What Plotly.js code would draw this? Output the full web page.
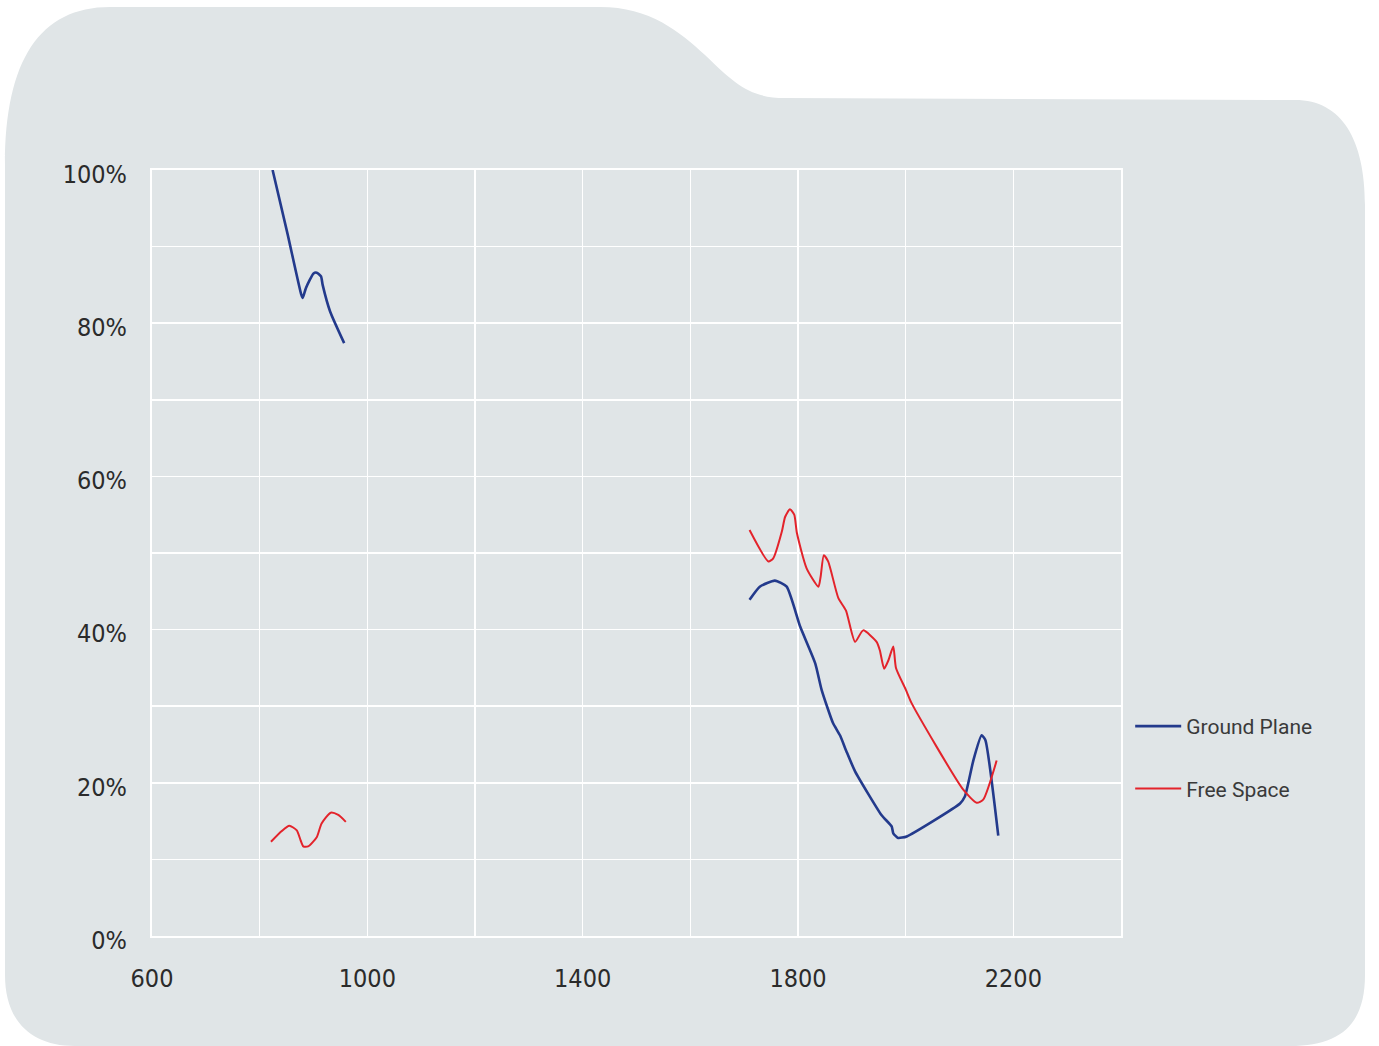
<!DOCTYPE html>
<html><head><meta charset="utf-8">
<script src="https://cdn.plot.ly/plotly-3.0.1.min.js"></script>
<style>html,body{margin:0;padding:0;background:#fff;}#chart{width:1379px;height:1046px;}</style>
</head><body><div id="chart"></div>
<script>
// Frequency (MHz) and efficiency (fraction); null separates the two bands
const groundX = [824, 852, 877, 880, 886, 900, 906, 914, 917, 931, 957,
  null,
  1710, 1729, 1757, 1779, 1804, 1832, 1844, 1865, 1878, 1890, 1906, 1955, 1974, 1977, 1986, 2002, 2101, 2110, 2126, 2141, 2148, 2172];
const groundY = [1.000, 0.916, 0.838, 0.833, 0.846, 0.865, 0.866, 0.861, 0.850, 0.815, 0.774,
  null,
  0.439, 0.456, 0.464, 0.456, 0.404, 0.356, 0.321, 0.278, 0.262, 0.241, 0.215, 0.158, 0.143, 0.134, 0.128, 0.130, 0.173, 0.182, 0.230, 0.262, 0.256, 0.131];

const freeX = [821, 841, 855, 869, 876, 881, 890, 906, 915, 932, 946, 960,
  null,
  1710, 1745, 1754, 1770, 1776, 1785, 1793, 1798, 1816, 1838, 1842, 1848, 1856, 1875, 1889, 1906, 1921, 1946, 1952, 1960, 1968, 1977, 1982, 2000, 2011, 2107, 2132, 2144, 2169];
const freeY = [0.123, 0.137, 0.144, 0.138, 0.125, 0.117, 0.117, 0.129, 0.147, 0.161, 0.158, 0.149,
  null,
  0.530, 0.489, 0.493, 0.528, 0.547, 0.557, 0.550, 0.526, 0.480, 0.456, 0.469, 0.497, 0.489, 0.441, 0.425, 0.384, 0.399, 0.384, 0.373, 0.349, 0.360, 0.378, 0.350, 0.322, 0.304, 0.191, 0.174, 0.178, 0.229];

const seriesNames = ['Ground Plane', 'Free Space'];
const xTickVals = [600, 800, 1000, 1200, 1400, 1600, 1800, 2000, 2200, 2400];
const xTickText = ['600', '', '1000', '', '1400', '', '1800', '', '2200', ''];
const yTickVals = [0, 0.1, 0.2, 0.3, 0.4, 0.5, 0.6, 0.7, 0.8, 0.9, 1.0];
const yTickText = ['0%', '', '20%', '', '40%', '', '60%', '', '80%', '', '100%'];

// layout geometry (pixels)
const W = 1379, H = 1046, L = 152, R = 1121, T = 170, B = 936;
function P(px, py) { return ((px - L) / (R - L)).toFixed(5) + ',' + ((B - py) / (B - T)).toFixed(5); }
const folder = 'M' + P(5,165) +
  ' C' + P(5,60) + ' ' + P(40,7) + ' ' + P(110,7) +
  ' L' + P(600,7) +
  ' C' + P(650,7) + ' ' + P(680,32) + ' ' + P(705,55) +
  ' C' + P(735,84) + ' ' + P(750,98) + ' ' + P(785,98) +
  ' L' + P(1295,100) +
  ' C' + P(1342,100) + ' ' + P(1365,140) + ' ' + P(1365,205) +
  ' L' + P(1365,975) +
  ' C' + P(1365,1025) + ' ' + P(1340,1046) + ' ' + P(1290,1046) +
  ' L' + P(75,1046) +
  ' C' + P(30,1046) + ' ' + P(5,1020) + ' ' + P(5,975) + ' Z';

const traces = [
  {x: groundX, y: groundY, name: seriesNames[0], type: 'scatter', mode: 'lines', connectgaps: false,
   line: {color: '#233a8c', width: 2.6, shape: 'spline', smoothing: 0.5}, legendgroup: 'a'},
  {x: freeX, y: freeY, name: seriesNames[1], type: 'scatter', mode: 'lines', connectgaps: false,
   line: {color: '#e3232b', width: 2, shape: 'spline', smoothing: 0.6}, legendgroup: 'b'}
];

const tickFont = {family: '"Liberation Sans Narrow", "DejaVu Sans Condensed", sans-serif', size: 25, color: '#2b2b2b'};
const layout = {
  width: W, height: H,
  margin: {l: L, r: W - R, t: T, b: H - B, pad: 0},
  paper_bgcolor: '#ffffff', plot_bgcolor: 'rgba(0,0,0,0)',
  showlegend: true,
  legend: {x: (1136 - L) / (R - L) - 0.006, xanchor: 'left', y: (B - 706) / (B - T), yanchor: 'top',
    bgcolor: 'rgba(0,0,0,0)', font: {family: 'Roboto, sans-serif', size: 21, color: '#3a3a3a'},
    tracegroupgap: 32, traceorder: 'grouped', itemwidth: 46},
  xaxis: {range: [600, 2400], tickmode: 'array', tickvals: xTickVals, ticktext: xTickText,
    showgrid: true, gridcolor: '#ffffff', gridwidth: 1.5, zeroline: false,
    showline: true, linecolor: '#ffffff', linewidth: 2, mirror: true,
    ticks: '', ticklabelstandoff: 19, tickfont: tickFont},
  yaxis: {range: [0, 1], tickmode: 'array', tickvals: yTickVals, ticktext: yTickText,
    showgrid: true, gridcolor: '#ffffff', gridwidth: 1.5, zeroline: false,
    showline: true, linecolor: '#ffffff', linewidth: 2, mirror: true,
    ticks: '', ticklabelstandoff: 18, ticklabelshift: 4, tickfont: tickFont},
  shapes: [{type: 'path', xref: 'paper', yref: 'paper', path: folder, fillcolor: '#e0e5e7', line: {width: 0}, layer: 'below'}]
};
Plotly.newPlot('chart', traces, layout, {displayModeBar: false, staticPlot: true});
</script></body></html>
